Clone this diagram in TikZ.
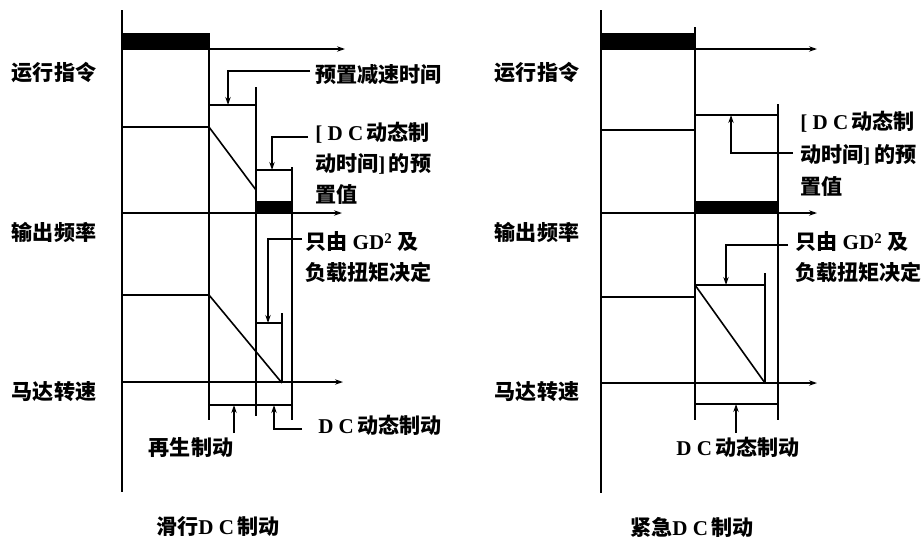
\documentclass[tikz,border=0pt]{standalone}
\usepackage{fontspec}
\setmainfont{Liberation Serif}
\newfontfamily\cjk{Noto Sans CJK SC}
\usetikzlibrary{arrows.meta}
\newcommand\cj[1]{{\cjk\bfseries #1}}
\tikzset{
  ln/.style={line width=1.2pt},
  tip/.style={-{Stealth[length=6pt,width=4pt]}},
  lab/.style={inner sep=0pt,font=\fontsize{15.8}{19}\selectfont\bfseries},
  labw/.style={lab,anchor=west},
}
\begin{document}
\begin{tikzpicture}[x=0.75pt,y=-0.75pt]
\useasboundingbox (0,0) rectangle (924,543);
% ================= LEFT =================
\draw[ln] (122,10) -- (122,492);
\fill (122,33) rectangle (209,49);
\draw[ln,tip] (122,49) -- (345,49);
\draw[ln] (209,33) -- (209,420);
\draw[ln] (209,105) -- (256,105);
\draw[ln] (256,87) -- (256,416);
\draw[ln] (122,127) -- (209,127) -- (256,190);
\draw[ln] (256,170) -- (292,170);
\draw[ln] (292,167) -- (292,420);
\draw[ln,tip] (122,213) -- (342,213);
\fill (256,201) rectangle (292,213);
\draw[ln] (256,323) -- (282,323);
\draw[ln] (282,313) -- (282,383);
\draw[ln] (122,295) -- (209,295) -- (282,383);
\draw[ln,tip] (122,382) -- (343,382);
\draw[ln] (209,405) -- (292,405);

\node[lab] (La) at (54,73) {\cj{运行指令}};
\node[lab] (Lb) at (54,232) {\cj{输出频率}};
\node[lab] (Lc) at (54,392) {\cj{马达转速}};

\node[labw] (pd) at (315,75) {\cj{预置减速时间}};
\node[labw] (dc1) at (315,133) {[\ D\ C\,\cj{动态制}};
\node[labw] (dc2) at (315,164) {\cj{动时间}]\,\cj{的预}};
\node[labw] (dc3) at (315,195) {\cj{置值}};
\node[labw] (gd1) at (305,242) {\cj{只由}\ GD$^{\mathbf 2}$\ \cj{及}};
\node[labw] (gd2) at (305,272) {\cj{负载扭矩决定}};
\node[lab] (rg) at (191,448) {\cj{再生制动}};
\node[labw] (dcb) at (318,425) {D\ C\,\cj{动态制动}};
\node[lab] (t1) at (218,527) {\cj{滑行}D\ C\,\cj{制动}};

\coordinate (pda) at (310,71);
\coordinate (dca) at (308,137);
\coordinate (gda) at (302,239);
\coordinate (dcba) at (302,429);
\draw[ln,tip] (pda) -| (228,105);
\draw[ln,tip] (dca) -| (272,170);
\draw[ln,tip] (gda) -| (268,323);
\draw[ln,tip] (dcba) -| (274,405);
\draw[ln,tip] (234,433) -- (234,405);

% ================= RIGHT =================
\draw[ln] (601,10) -- (601,493);
\fill (601,33) rectangle (695,49);
\draw[ln,tip] (601,49) -- (817,49);
\draw[ln] (695,27) -- (695,420);
\draw[ln] (601,130) -- (695,130);
\draw[ln] (695,115) -- (778,115);
\draw[ln] (778,104) -- (778,420);
\draw[ln,tip] (601,213) -- (817,213);
\fill (695,201) rectangle (778,213);
\draw[ln] (601,297) -- (695,297);
\draw[ln] (695,285) -- (765,285);
\draw[ln] (695,285) -- (765,383);
\draw[ln] (765,273) -- (765,383);
\draw[ln,tip] (601,383) -- (817,383);
\draw[ln] (695,404) -- (778,404);

\node[lab] (Ra) at (537,73) {\cj{运行指令}};
\node[lab] (Rb) at (537,232) {\cj{输出频率}};
\node[lab] (Rc) at (537,392) {\cj{马达转速}};

\node[labw] (rdc1) at (800,122) {[\ D\ C\,\cj{动态制}};
\node[labw] (rdc2) at (800,155) {\cj{动时间}]\,\cj{的预}};
\node[labw] (rdc3) at (800,187) {\cj{置值}};
\node[labw] (rgd1) at (795,242) {\cj{只由}\ GD$^{\mathbf 2}$\ \cj{及}};
\node[labw] (rgd2) at (795,272) {\cj{负载扭矩决定}};
\node[lab] (rdcb) at (738,447) {D\ C\,\cj{动态制动}};
\node[lab] (t2) at (692,527) {\cj{紧急}D\ C\,\cj{制动}};

\coordinate (rdca) at (793,153);
\coordinate (rgda) at (788,245);
\draw[ln,tip] (rdca) -| (731,115);
\draw[ln,tip] (rgda) -| (726,285);
\draw[ln,tip] (rdcb.north -| 736,0) ++(0,-4) -- (736,404);
\end{tikzpicture}
\end{document}
